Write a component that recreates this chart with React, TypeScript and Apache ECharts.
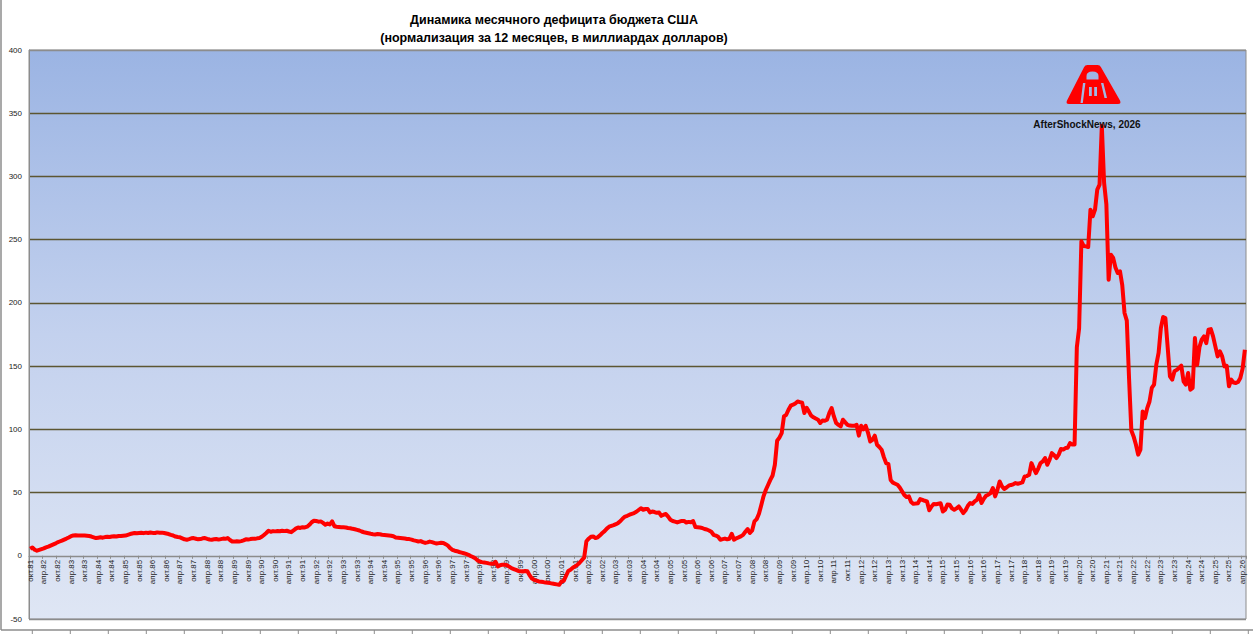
import React, { useEffect, useRef } from "react";
import * as echarts from "echarts";

// ---- DATA ----
const MONTH_ABBR = ["янв", "фев", "мар", "апр", "май", "июн", "июл", "авг", "сен", "окт", "ноя", "дек"];
const START_YEAR = 1981;
const START_MONTH = 9; // октябрь (0-based)

const deficit1981to1989 = [
  5.5, 6.5, 4.8, 4.0, 4.6, 5.2, 5.8, 6.6, 7.2, 8.0, 8.8, 9.6,
  10.6, 11.3, 12.0, 12.8, 13.6, 14.5, 15.5, 16.0, 16.2, 16.0, 16.1, 16.0,
  16.0, 15.8, 15.6, 15.2, 14.6, 14.0, 14.3, 14.6, 14.3, 14.8, 15.0, 14.8,
  15.2, 15.4, 15.2, 15.6, 15.6, 15.8, 16.0, 16.6, 17.2, 17.6, 18.0, 17.8,
  18.0, 18.2, 17.9, 18.3, 18.0, 18.4, 18.1, 18.0, 18.5, 18.2, 18.3, 18.0,
  17.6, 17.2, 16.5, 16.0, 15.2, 14.8, 14.6, 13.8, 13.0, 12.7, 13.2, 13.8,
  14.0, 13.5, 13.0, 13.2, 13.8, 14.0, 13.4, 12.9, 12.7, 13.0, 13.3, 12.8,
  13.2, 13.6, 13.4, 14.0, 12.5, 11.3, 11.2, 11.5, 11.3, 11.6, 12.2, 13.0,
];
const deficit1989to1997 = [
  12.8, 13.2, 13.5, 13.4, 13.8, 14.0, 15.0, 16.5, 18.0, 19.8, 19.0, 19.5,
  19.3, 19.6, 19.4, 19.8, 19.5, 19.8, 19.2, 18.7, 20.0, 21.5, 22.4, 22.0,
  22.6, 22.4, 23.0, 24.5, 26.5, 27.7, 27.5, 27.0, 27.2, 26.0, 24.5, 25.5,
  24.8, 27.2, 23.4, 23.0, 22.8, 22.6, 22.5, 22.4, 22.0, 21.8, 21.3, 21.0,
  20.5, 20.0, 19.2, 18.6, 18.2, 17.8, 17.4, 17.1, 16.9, 17.2, 17.0, 16.6,
  16.4, 16.2, 16.0, 15.8, 15.4, 14.4, 14.2, 14.0, 13.8, 13.6, 13.3, 13.2,
  12.8, 12.2, 11.8, 11.3, 11.6, 10.8, 10.2, 10.6, 11.2, 10.8, 10.2, 9.7,
  10.0, 10.3, 10.2, 9.2, 8.0, 6.0, 4.7, 4.0, 3.6, 3.0, 2.5, 2.0,
];
const deficit1997to2005 = [
  1.5, 0.8, -0.2, -1.0, -2.0, -3.5, -4.5, -5.0, -5.3, -5.6, -6.0, -6.3,
  -6.3, -4.8, -8.4, -7.5, -7.0, -7.0, -7.5, -8.6, -9.8, -10.5, -11.2, -12.0,
  -12.2, -12.4, -12.0, -12.3, -15.5, -18.0, -19.0, -19.6, -20.3, -20.5, -20.8, -21.2,
  -21.4, -21.6, -22.0, -22.3, -22.6, -23.0, -20.5, -19.8, -16.0, -12.0, -11.0, -9.5,
  -8.4, -7.2, -5.5, -3.5, -1.5, 11.5, 13.5, 15.0, 15.3, 14.0, 14.6, 16.2,
  18.0, 19.5, 21.5, 23.0, 23.6, 24.2, 25.0, 26.0, 27.5, 29.5, 31.0, 31.6,
  32.5, 33.2, 33.8, 34.8, 36.2, 37.6, 36.4, 37.0, 37.0, 34.3, 35.0, 34.6,
  34.0, 34.2, 31.6, 32.5, 33.0, 31.0, 28.5, 27.5, 27.0, 26.4, 27.0, 27.6,
];
const deficit2005to2013 = [
  27.6, 26.3, 26.8, 26.5, 27.4, 22.7, 22.5, 22.3, 22.0, 21.2, 20.8, 20.0,
  19.0, 16.6, 16.0, 15.0, 12.7, 13.2, 13.6, 13.0, 13.5, 17.4, 12.7, 13.8,
  14.5, 15.3, 16.5, 19.0, 21.1, 18.0, 20.0, 27.2, 29.0, 33.2, 40.0, 47.0,
  52.0, 56.0, 60.0, 63.5, 72.0, 91.0, 93.5, 97.0, 110.2, 111.5, 115.5, 118.7,
  119.5, 120.5, 122.0, 121.5, 121.0, 112.9, 117.0, 114.0, 110.8, 109.5, 108.5, 107.6,
  105.0, 107.0, 106.8, 107.6, 113.0, 116.8, 110.2, 105.0, 103.5, 102.3, 107.6, 105.5,
  103.6, 103.0, 102.8, 102.8, 103.6, 95.0, 102.8, 100.0, 102.8, 97.4, 90.4, 91.7,
  95.0, 87.8, 86.0, 83.9, 78.0, 73.3, 72.5, 60.0, 57.8, 57.0, 56.2, 54.0,
];
const deficit2013to2019 = [
  51.0, 48.0, 46.4, 47.0, 42.5, 41.1, 41.3, 41.6, 44.8, 44.2, 43.5, 43.0,
  36.0, 39.0, 41.0, 40.8, 41.2, 41.6, 35.0, 36.5, 40.5, 40.4, 37.5, 36.4,
  37.5, 39.0, 36.5, 33.8, 36.0, 39.5, 41.7, 41.0, 43.0, 44.3, 48.3, 41.7,
  45.0, 47.5, 48.3, 49.6, 53.6, 47.0, 52.0, 58.8, 55.0, 52.8, 54.0, 55.4,
  56.0, 56.5, 57.5, 57.0, 57.5, 58.0, 62.8, 63.0, 64.0, 73.3, 69.0, 65.4,
  69.0, 73.3, 74.6, 77.3, 72.0, 76.0, 81.2, 79.5, 77.3, 80.0, 84.4, 84.0,
];
const deficit2019to2026 = [
  85.2, 85.5, 89.1, 88.0, 88.0, 165.0, 180.0, 248.7, 245.0, 244.7, 244.2, 273.7,
  268.5, 273.7, 289.6, 293.5, 340.0, 295.0, 278.0, 218.3, 238.1, 235.5, 228.0, 223.6,
  225.0, 214.0, 192.0, 186.0, 140.0, 99.0, 94.4, 88.0, 80.0, 83.9, 114.2, 108.9,
  116.8, 122.0, 132.7, 135.3, 151.1, 160.4, 180.0, 188.8, 188.0, 165.0, 141.9, 139.3,
  145.9, 147.0, 148.5, 150.3, 138.0, 135.3, 144.5, 131.3, 132.7, 172.2, 151.1, 165.0,
  170.9, 173.5, 168.2, 178.8, 179.3, 173.5, 165.6, 157.7, 161.7, 157.7, 149.8, 150.3,
  134.0, 139.3, 137.0, 136.6, 137.5, 140.6, 148.0, 163.0,
];

const TITLE_LINES = [
  "Динамика месячного дефицита бюджета США",
  "(нормализация за 12 месяцев, в миллиардах долларов)",
];
const WATERMARK = "AfterShockNews, 2026";
const Y_MIN = -50;
const Y_MAX = 400;
const Y_STEP = 50;

const deficit = [
  ...deficit1981to1989,
  ...deficit1989to1997,
  ...deficit1997to2005,
  ...deficit2005to2013,
  ...deficit2013to2019,
  ...deficit2019to2026,
];

const categories = deficit.map((_, i) => {
  const m = (START_MONTH + i) % 12;
  const y = START_YEAR + Math.floor((START_MONTH + i) / 12);
  return `${MONTH_ABBR[m]}.${String(y % 100).padStart(2, "0")}`;
});

const LOGO_PATH =
  "M19,2.2 Q20,0 22.5,0 L32.5,0 Q35,0 36,2.2 L55,35.5 Q56.5,39 53,39 L4,39 Q0.5,39 2,35.5 Z " +
  "M21.5,11 L21.5,14.5 L33.5,14.5 L33.5,11 Q33.5,6.5 27.5,6.5 Q21.5,6.5 21.5,11 Z " +
  "M18,18 L15.5,38 L17.8,38 L20.4,18 Z " +
  "M36,18 L39.5,33 L42,33 L38.4,18 Z " +
  "M24,22 L24,31 L26.8,31 L26.8,22 Z " +
  "M29.2,22 L29.2,31 L32,31 L32,22 Z";

let logoRegistered = false;
function registerLogo() {
  if (logoRegistered) return;
  echarts.graphic.registerShape("afsLogo", echarts.graphic.extendPath(LOGO_PATH, {}) as any);
  logoRegistered = true;
}

const FONT = "Liberation Sans, Arial, sans-serif";

export default function App() {
  const ref = useRef<HTMLDivElement>(null);

  useEffect(() => {
    if (!ref.current) return;
    registerLogo();
    const chart = echarts.init(ref.current, undefined, { renderer: "svg" });

    const gridLeft = 29;
    const gridTop = 50;
    const gridWidth = 1217;
    const gridHeight = 569;
    // distance of the zero line from the bottom of the plot
    const zeroOffset = (gridHeight * (0 - Y_MIN)) / (Y_MAX - Y_MIN);

    const nLines = (Y_MAX - Y_MIN) / Y_STEP + 1;
    const splitColors: string[] = [];
    for (let k = 0; k < nLines; k++) {
      const v = Y_MIN + k * Y_STEP;
      splitColors.push(v <= 0 || v >= Y_MAX ? "#8c8c8c" : "#5c5632");
    }

    const frameTicks: any[] = [];
    for (let x = 32.3; x < 1253; x += 38) {
      frameTicks.push({
        type: "line",
        silent: true,
        shape: { x1: x, y1: 630, x2: x, y2: 634 },
        style: { stroke: "#8c8c8c", lineWidth: 1 },
      });
    }

    chart.setOption({
      animation: false,
      backgroundColor: "#ffffff",
      grid: {
        left: gridLeft,
        top: gridTop,
        width: gridWidth,
        height: gridHeight,
        show: true,
        borderColor: "#8c8c8c",
        borderWidth: 1,
        backgroundColor: new echarts.graphic.LinearGradient(0, 0, 0, 1, [
          { offset: 0, color: "#9bb4e3" },
          { offset: 0.5, color: "#c3d1ee" },
          { offset: 1, color: "#dfe6f4" },
        ]),
        containLabel: false,
        outerBoundsMode: "none",
      },
      xAxis: {
        type: "category",
        data: categories,
        boundaryGap: true,
        position: "bottom",
        offset: -zeroOffset,
        axisLine: { onZero: false, lineStyle: { color: "#8c8c8c", width: 1 } },
        axisTick: { show: true, interval: 5, length: 3, lineStyle: { color: "#8c8c8c" } },
        axisLabel: {
          interval: 5,
          rotate: 90,
          fontSize: 8,
          color: "#222",
          margin: 4,
          fontFamily: FONT,
        },
        splitLine: { show: false },
      },
      yAxis: {
        type: "value",
        min: Y_MIN,
        max: Y_MAX,
        interval: Y_STEP,
        axisLine: { show: true, lineStyle: { color: "#8c8c8c" } },
        axisTick: { show: false },
        axisLabel: { fontSize: 8, color: "#222", margin: 7, fontFamily: FONT },
        splitLine: { show: true, lineStyle: { color: splitColors, width: 1.3 } },
      },
      series: [
        {
          type: "line",
          data: deficit,
          showSymbol: false,
          symbol: "none",
          smooth: false,
          lineStyle: { color: "#ff0000", width: 4, join: "round" },
          itemStyle: { color: "#ff0000" },
          z: 5,
        },
      ],
      graphic: [
        {
          type: "line",
          silent: true,
          shape: { x1: 1, y1: 0, x2: 1, y2: 630 },
          style: { stroke: "#8c8c8c", lineWidth: 1.5 },
        },
        {
          type: "line",
          silent: true,
          shape: { x1: 1, y1: 630, x2: 1253, y2: 630 },
          style: { stroke: "#8c8c8c", lineWidth: 1.5 },
        },
        ...frameTicks,
        {
          type: "text",
          x: 554,
          y: 20,
          style: {
            text: TITLE_LINES[0],
            fontSize: 12.5,
            fontWeight: "bold",
            fontFamily: FONT,
            fill: "#000",
            textAlign: "center",
            textVerticalAlign: "middle",
          },
        },
        {
          type: "text",
          x: 554,
          y: 38,
          style: {
            text: TITLE_LINES[1],
            fontSize: 12.5,
            fontWeight: "bold",
            fontFamily: FONT,
            fill: "#000",
            textAlign: "center",
            textVerticalAlign: "middle",
          },
        },
        {
          type: "afsLogo",
          x: 1065,
          y: 65,
          z: 10,
          style: { fill: "#ff0000" },
        },
        {
          type: "text",
          x: 1087,
          y: 124,
          z: 10,
          style: {
            text: WATERMARK,
            fontSize: 10,
            fontWeight: "bold",
            fontFamily: FONT,
            fill: "#111",
            textAlign: "center",
            textVerticalAlign: "middle",
          },
        },
      ],
    });

    return () => {
      chart.dispose();
    };
  }, []);

  return (
    <div
      ref={ref}
      style={{ position: "fixed", left: 0, top: 0, width: 1253, height: 634, background: "#fff" }}
    />
  );
}
